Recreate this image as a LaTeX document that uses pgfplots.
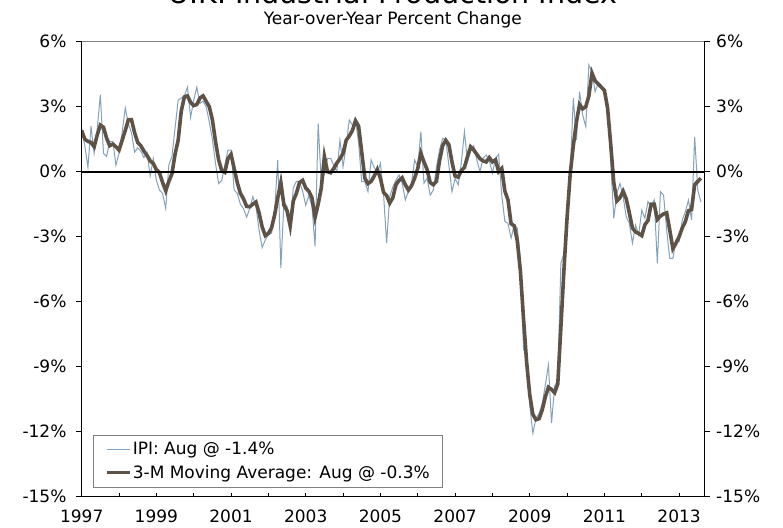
\documentclass[border=0pt]{standalone}
\usepackage{fontspec}
\setmainfont{DejaVu Sans}
\usepackage{pgfplots}
\usepackage{pgfplotstable}
\pgfplotsset{compat=1.18}

\definecolor{ipiblue}{RGB}{132,162,188}
\definecolor{mabrown}{RGB}{94,82,71}

% month index (0 = Jan 1997), IPI y/y %, 3-month moving average
\pgfplotstableread{
m ipi ma
0 2.0 1.9
1 1.2 1.5
2 0.2 1.4
3 2.1 1.35
4 0.85 1.15
5 2.0 1.7
6 3.55 2.15
7 0.85 2.05
8 0.7 1.55
9 1.4 1.2
10 1.4 1.27
11 0.3 1.15
12 0.85 1.0
13 1.8 1.45
14 2.95 1.9
15 2.2 2.4
16 1.8 2.4
17 0.9 1.8
18 1.1 1.35
19 0.95 1.2
20 0.65 0.95
21 0.9 0.75
22 -0.2 0.5
23 0.6 0.38
24 -0.4 0.1
25 -0.85 -0.05
26 -1.0 -0.5
27 -1.7 -0.88
28 0.3 -0.45
29 0.7 -0.1
30 2.0 0.8
31 3.3 1.45
32 3.4 2.8
33 3.5 3.45
34 3.9 3.5
35 2.5 3.2
36 3.3 3.05
37 3.9 3.1
38 3.15 3.4
39 3.25 3.5
40 3.0 3.25
41 2.3 3.0
42 1.5 2.4
43 0.4 1.4
44 -0.55 0.55
45 -0.4 0.05
46 0.3 -0.03
47 1.0 0.6
48 1.0 0.8
49 -0.85 0.15
50 -1.0 -0.5
51 -1.5 -1.0
52 -1.7 -1.25
53 -2.1 -1.6
54 -1.7 -1.62
55 -1.15 -1.5
56 -1.6 -1.4
57 -2.7 -1.9
58 -3.5 -2.55
59 -3.15 -2.95
60 -2.9 -2.85
61 -2.85 -2.6
62 -1.85 -2.0
63 0.55 -1.2
64 -4.45 -0.5
65 -1.4 -1.55
66 -1.6 -1.8
67 -2.55 -2.5
68 -0.75 -1.35
69 -0.45 -1.0
70 -0.45 -0.5
71 -0.9 -0.4
72 -1.55 -0.75
73 -1.1 -0.9
74 -1.6 -1.2
75 -3.45 -2.1
76 2.23 -1.5
77 -0.53 -0.75
78 -0.1 0.7
79 0.62 0.0
80 0.62 -0.05
81 0.3 0.15
82 0.0 0.4
83 1.46 0.6
84 0.23 0.85
85 1.2 1.45
86 2.39 1.65
87 2.15 1.9
88 2.39 2.35
89 1.31 2.1
90 -0.46 0.9
91 -0.46 -0.3
92 -0.92 -0.55
93 0.54 -0.45
94 0.2 -0.2
95 -0.07 0.1
96 0.39 -0.3
97 -1.0 -0.95
98 -3.3 -1.1
99 -1.15 -1.45
100 -0.7 -1.2
101 -0.38 -0.6
102 -0.15 -0.4
103 -0.53 -0.28
104 -1.3 -0.6
105 -0.9 -0.85
106 -0.53 -0.65
107 0.54 -0.3
108 0.23 0.15
109 1.85 0.85
110 -0.53 0.45
111 -0.3 0.1
112 -1.08 -0.5
113 -0.85 -0.6
114 0.2 -0.45
115 1.0 0.5
116 1.54 1.2
117 1.46 1.45
118 0.3 1.25
119 -0.92 0.45
120 -0.3 -0.2
121 -0.61 -0.25
122 0.39 0.05
123 1.85 0.2
124 0.46 0.7
125 1.0 1.15
126 1.2 1.0
127 0.54 0.8
128 0.0 0.6
129 0.62 0.5
130 0.77 0.45
131 0.5 0.65
132 -0.07 0.45
133 0.62 0.55
134 0.8 0.0
135 -1.08 0.15
136 -2.3 -0.9
137 -2.38 -1.3
138 -3.07 -2.4
139 -2.46 -2.5
140 -2.6 -3.2
141 -4.07 -4.6
142 -8.2 -6.8
143 -8.5 -8.8
144 -10.8 -10.3
145 -12.07 -11.2
146 -11.38 -11.45
147 -11.15 -11.4
148 -10.7 -11.0
149 -9.85 -10.4
150 -8.92 -9.95
151 -11.6 -10.05
152 -9.9 -10.2
153 -9.6 -9.8
154 -4.23 -7.2
155 -3.77 -4.5
156 -1.6 -2.1
157 -0.07 -0.1
158 3.39 1.2
159 1.46 2.3
160 3.69 3.1
161 2.62 2.9
162 2.08 3.0
163 4.92 3.5
164 4.61 4.55
165 3.69 4.2
166 4.08 4.05
167 4.0 3.9
168 3.6 3.75
169 2.85 2.95
170 0.54 1.3
171 -2.15 -0.5
172 -1.0 -1.35
173 -0.54 -1.2
174 -1.15 -0.9
175 -2.08 -1.25
176 -2.38 -1.9
177 -3.3 -2.6
178 -2.46 -2.78
179 -2.92 -2.85
180 -1.77 -2.95
181 -2.15 -2.45
182 -1.38 -2.25
183 -1.61 -1.5
184 -1.3 -1.5
185 -4.23 -2.2
186 -0.92 -2.05
187 -1.08 -1.95
188 -2.69 -1.9
189 -4.0 -2.7
190 -4.0 -3.55
191 -3.15 -3.3
192 -3.23 -3.0
193 -2.23 -2.6
194 -1.85 -2.3
195 -1.31 -1.8
196 -2.23 -1.75
197 1.61 -0.6
198 -0.85 -0.45
199 -1.4 -0.3
}\ipidata

\pgfplotsset{
  base/.style={
    at={(0,0)}, anchor=south west,
    scale only axis, width=622.3pt, height=455pt,
    xmin=0, xmax=200, ymin=-15, ymax=6,
    axis line style={draw=none},
    tick style={black, line width=0.8pt},
    ticklabel style={font=\fontsize{17}{20}\selectfont},
  },
}

\begin{document}
\begin{tikzpicture}
% x ticks, pointing inwards
\begin{axis}[base,
    tick align=inside, xtick pos=left, ytick=\empty,
    xtick={0,24,...,192},
    xticklabels={1997,1999,2001,2003,2005,2007,2009,2011,2013},
    minor xtick={12,36,...,180},
    major tick length=4pt, minor tick length=4pt,
    xticklabel style={anchor=base, inner sep=0pt, yshift=-26pt},
]
\end{axis}

% right y labels
\begin{axis}[base,
    tick align=outside, xtick=\empty,
    ytick={-15,-12,...,6},
    yticklabels={-15\%,-12\%,-9\%,-6\%,-3\%,0\%,3\%,6\%},
    ytick pos=right, yticklabel pos=right,
    major tick length=5.7pt,
    y tick style={draw=none},
    yticklabel style={xshift=3pt},
]
\end{axis}

% data, left y labels, y ticks on both sides
\begin{axis}[base,
    tick align=outside, xtick=\empty,
    ytick={-15,-12,...,6},
    yticklabels={-15\%,-12\%,-9\%,-6\%,-3\%,0\%,3\%,6\%},
    ytick pos=both, yticklabel pos=left,
    major tick length=5.7pt,
    yticklabel style={xshift=-6pt},
    legend style={
        at={(axis description cs:0.018,0.021)}, anchor=south west,
        draw=gray, line width=0.6pt,
        font=\fontsize{17}{20}\selectfont,
        inner xsep=12pt, inner ysep=5pt, row sep=5pt,
        nodes={inner xsep=1pt},
    },
    legend cell align=left,
    legend image code/.code={\draw[#1] (0pt,0pt) -- (23pt,0pt);},
]
\addplot[ipiblue, line width=1pt] table[x=m, y=ipi] {\ipidata};
\addlegendentry{IPI: Aug @ -1.4\%}
\addplot[mabrown, line width=3.6pt] table[x=m, y=ma] {\ipidata};
\addlegendentry{3-M Moving Average: Aug @ -0.3\%}
\addplot[black, line width=2pt, forget plot] coordinates {(0,0) (200,0)};
\end{axis}

% axis frame: grey top, black sides and bottom
\draw[gray, line width=0.9pt] (0pt,455pt) -- (622.3pt,455pt);
\draw[black, line width=0.9pt] (0pt,0pt) -- (0pt,455pt);
\draw[black, line width=0.9pt] (622.3pt,0pt) -- (622.3pt,455pt);
\draw[black, line width=1.4pt] (0pt,0pt) -- (622.3pt,0pt);

\node[anchor=base, font=\fontsize{28.5}{32}\selectfont] at (311.15pt,492.7pt) {U.K. Industrial Production Index};
\node[anchor=base, font=\fontsize{17}{20}\selectfont] at (311.15pt,471.7pt) {Year-over-Year Percent Change};

\pgfresetboundingbox
\path[use as bounding box] (-81.7pt,-30.5pt) rectangle (701.3pt,496.7pt);
\end{tikzpicture}
\end{document}
